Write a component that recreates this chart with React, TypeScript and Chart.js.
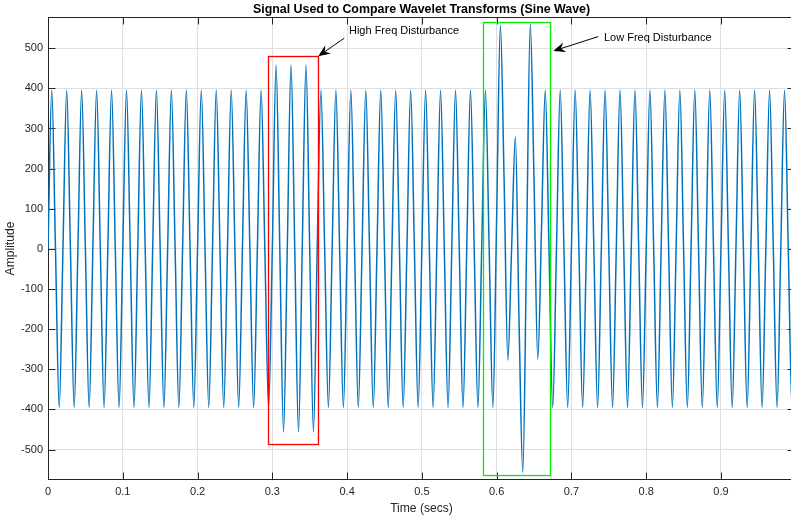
import React, { useEffect, useRef } from 'react';
import { Chart, registerables } from 'chart.js';

Chart.register(...registerables);

// ---- data -------------------------------------------------------------
const sampleInterval = 0.005; // seconds between listed samples
// Amplitude samples, one row per 0.1 s (5 cycles of the 50 Hz sine)
const amplitude = [
  0, 395, 0, -395, 0, 395, 0, -395, 0, 395, 0, -395, 0, 395, 0, -395, 0, 395, 0, -395, // 0.0
  0, 395, 0, -395, 0, 395, 0, -395, 0, 395, 0, -395, 0, 395, 0, -395, 0, 395, 0, -395, // 0.1
  0, 395, 0, -395, 0, 395, 0, -395, 0, 395, 0, -395, 0, 395, 0, -395, 0, 395, 0, -395, // 0.2
  0, 458, 0, -456, 0, 458, 0, -456, 0, 458, 0, -456, 0, 395, 0, -395, 0, 395, 0, -395, // 0.3
  0, 395, 0, -395, 0, 395, 0, -395, 0, 395, 0, -395, 0, 395, 0, -395, 0, 395, 0, -395, // 0.4
  0, 395, 0, -395, 0, 395, 0, -395, 0, 395, 0, -395, 0, 395, 0, -395, 0, 395, 0, -395, // 0.5
  80, 558, 170, -277, 0, 279, -185, -557, 0, 560, 170, -275, 50, 395, 0, -395, 0, 395, 0, -395, // 0.6
  0, 395, 0, -395, 0, 395, 0, -395, 0, 395, 0, -395, 0, 395, 0, -395, 0, 395, 0, -395, // 0.7
  0, 395, 0, -395, 0, 395, 0, -395, 0, 395, 0, -395, 0, 395, 0, -395, 0, 395, 0, -395, // 0.8
  0, 395, 0, -395, 0, 395, 0, -395, 0, 395, 0, -395, 0, 395, 0, -395, 0, 395, 0, -395, // 0.9
  0,
];

const xMin = 0;
const xMax = 0.999;
const xStep = 0.1;
const yMin = -575;
const yMax = 577;
const yStep = 100;

const titleText = 'Signal Used to Compare Wavelet Transforms (Sine Wave)';
const xLabel = 'Time (secs)';
const yLabel = 'Amplitude';

// annotation boxes (data units)
const noteLabels = ['High Freq Disturbance', 'Low Freq Disturbance'];
const noteBoxStart = [0.2946, 0.5821];
const noteBoxEnd = [0.3615, 0.6717];
const noteBoxTop = [480, 566];
const noteBoxBottom = [-487, -563];
const noteTextTime = [0.4025, 0.7435];
const noteTextAmp = [542, 525];
const noteArrowFromTime = [0.3962, 0.7359];
const noteArrowFromAmp = [525, 529];
const noteArrowToTime = [0.3614, 0.6757];
const noteArrowToAmp = [480, 493];

// ---- styles -----------------------------------------------------------
const FONT = '"Liberation Sans", Arial, Helvetica, sans-serif';
const AXIS_COLOR = '#262626';
const GRID_COLOR = '#dfdfdf';
const LINE_COLOR = '#0072BD';
const NOTE_BOX_COLORS = ['#ff0000', '#00ee00'];

const framePlugin = {
  id: 'matlabFrame',
  beforeDatasetsDraw(chart: any) {
    const { ctx, chartArea: a, scales } = chart;
    const L = Math.round(a.left) + 0.5;
    const R = Math.round(a.right) - 0.5;
    const T = Math.floor(a.top) + 0.5;
    const B = Math.floor(a.bottom) + 0.5;
    ctx.save();
    ctx.strokeStyle = AXIS_COLOR;
    ctx.lineWidth = 1;
    ctx.strokeRect(L, T, R - L, B - T);
    const tick = 7;
    ctx.beginPath();
    for (const t of scales.x.ticks) {
      const px = Math.round(scales.x.getPixelForValue(t.value)) + 0.5;
      ctx.moveTo(px, B);
      ctx.lineTo(px, B - tick);
      ctx.moveTo(px, T);
      ctx.lineTo(px, T + tick);
    }
    for (const t of scales.y.ticks) {
      const py = Math.round(scales.y.getPixelForValue(t.value)) + 0.5;
      ctx.moveTo(L, py);
      ctx.lineTo(L + tick, py);
      ctx.moveTo(R, py);
      ctx.lineTo(R - tick, py);
    }
    ctx.stroke();

    // title, centred over the axes
    ctx.font = `bold 12.4px ${FONT}`;
    ctx.textAlign = 'center';
    ctx.textBaseline = 'middle';
    ctx.fillStyle = '#000';
    ctx.fillText(titleText, (a.left + a.right) / 2, 9.2);
    ctx.restore();
  },
};

const notesPlugin = {
  id: 'disturbanceNotes',
  afterDatasetsDraw(chart: any) {
    const { ctx, scales } = chart;
    const sx = scales.x;
    const sy = scales.y;
    ctx.save();
    for (let i = 0; i < noteLabels.length; i++) {
      const x0 = Math.round(sx.getPixelForValue(noteBoxStart[i])) + 0.5;
      const x1 = Math.round(sx.getPixelForValue(noteBoxEnd[i])) + 0.5;
      const y0 = Math.round(sy.getPixelForValue(noteBoxTop[i])) + 0.5;
      const y1 = Math.round(sy.getPixelForValue(noteBoxBottom[i])) + 0.5;
      ctx.strokeStyle = NOTE_BOX_COLORS[i];
      ctx.lineWidth = 1.3;
      ctx.strokeRect(x0, y0, x1 - x0, y1 - y0);

      // arrow
      const ax = sx.getPixelForValue(noteArrowFromTime[i]);
      const ay = sy.getPixelForValue(noteArrowFromAmp[i]);
      const bx = sx.getPixelForValue(noteArrowToTime[i]);
      const by = sy.getPixelForValue(noteArrowToAmp[i]);
      const dx = bx - ax;
      const dy = by - ay;
      const len = Math.hypot(dx, dy);
      const ux = dx / len;
      const uy = dy / len;
      const headL = 12;
      const headW = 5;
      const notch = 8;
      ctx.strokeStyle = '#000';
      ctx.fillStyle = '#000';
      ctx.lineWidth = 1;
      ctx.beginPath();
      ctx.moveTo(ax, ay);
      ctx.lineTo(bx - ux * notch, by - uy * notch);
      ctx.stroke();
      ctx.beginPath();
      ctx.moveTo(bx, by);
      ctx.lineTo(bx - ux * headL - uy * headW, by - uy * headL + ux * headW);
      ctx.lineTo(bx - ux * notch, by - uy * notch);
      ctx.lineTo(bx - ux * headL + uy * headW, by - uy * headL - ux * headW);
      ctx.closePath();
      ctx.fill();

      // label
      ctx.font = `11px ${FONT}`;
      ctx.textAlign = 'left';
      ctx.textBaseline = 'middle';
      ctx.fillStyle = '#000';
      ctx.fillText(
        noteLabels[i],
        sx.getPixelForValue(noteTextTime[i]),
        sy.getPixelForValue(noteTextAmp[i])
      );
    }
    ctx.restore();
  },
};

export default function App() {
  const canvasRef = useRef<HTMLCanvasElement | null>(null);

  useEffect(() => {
    const canvas = canvasRef.current;
    if (!canvas) return;
    const points = amplitude.map((v, i) => ({ x: i * sampleInterval, y: v }));
    const chart = new Chart(canvas, {
      type: 'line',
      data: {
        datasets: [
          {
            data: points,
            borderColor: LINE_COLOR,
            borderWidth: 1.5,
            pointRadius: 0,
            fill: false,
            cubicInterpolationMode: 'monotone',
            clip: 0,
          } as any,
        ],
      },
      options: {
        responsive: false,
        animation: false,
        devicePixelRatio: 1,
        events: [],
        layout: {
          autoPadding: false,
          padding: { left: 0, right: 5, top: 17.3, bottom: 0 },
        } as any,
        plugins: {
          legend: { display: false },
          tooltip: { enabled: false },
          title: { display: false },
        },
        scales: {
          x: {
            type: 'linear',
            min: xMin,
            max: xMax,
            afterFit: (s: any) => {
              s.height = 40.3;
            },
            ticks: {
              stepSize: xStep,
              includeBounds: false,
              autoSkip: false,
              maxRotation: 0,
              padding: 5.4,
              color: AXIS_COLOR,
              font: { family: FONT, size: 11, lineHeight: 1.2 },
              callback: (v: any) => String(Math.round(Number(v) * 10) / 10),
            },
            grid: { color: GRID_COLOR, lineWidth: 1, drawTicks: false },
            border: { display: false },
            title: {
              display: true,
              text: xLabel,
              color: AXIS_COLOR,
              font: { family: FONT, size: 12.1, lineHeight: 1.2 },
              padding: { top: 0, bottom: 3.7 },
            },
          },
          y: {
            type: 'linear',
            min: yMin,
            max: yMax,
            afterFit: (s: any) => {
              s.width = 48;
            },
            ticks: {
              stepSize: yStep,
              includeBounds: false,
              autoSkip: false,
              padding: 5,
              color: AXIS_COLOR,
              font: { family: FONT, size: 11, lineHeight: 1.2 },
              callback: (v: any) => String(Math.round(Number(v))),
            },
            grid: { color: GRID_COLOR, lineWidth: 1, drawTicks: false },
            border: { display: false },
            title: {
              display: true,
              text: yLabel,
              color: AXIS_COLOR,
              font: { family: FONT, size: 12.1, lineHeight: 1.2 },
              padding: { top: 3.7, bottom: 0 },
            },
          },
        },
      } as any,
      plugins: [framePlugin, notesPlugin],
    });
    return () => chart.destroy();
  }, []);

  return (
    <div
      style={{
        position: 'fixed',
        left: 0,
        top: 0,
        width: 791,
        height: 520,
        overflow: 'hidden',
        background: '#fff',
      }}
    >
      <canvas ref={canvasRef} width={800} height={520} style={{ display: 'block' }} />
    </div>
  );
}
